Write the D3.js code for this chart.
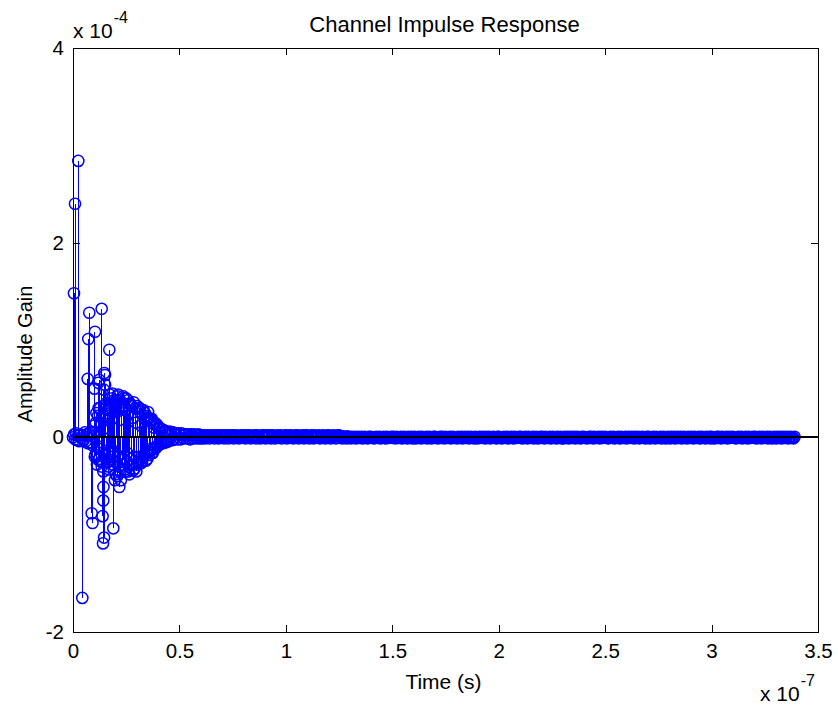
<!DOCTYPE html>
<html>
<head>
<meta charset="utf-8">
<title>Channel Impulse Response</title>
<script src="https://d3js.org/d3.v7.min.js"></script>
<style>
  body { margin: 0; background: #fff; }
  text { font-family: "Liberation Sans", Arial, sans-serif; fill: #000; }
</style>
</head>
<body>
<svg width="838" height="710"></svg>
<script>
// Resolved multipath taps: delay in ns, gain in units of 1e-4
const tapDelayNs = [0.47, 0.94, 2.49, 4.37, 6.9, 7.19, 7.66, 8.78, 9.16, 10.1, 10.33,
  11.88, 11.9, 12.35, 13.48, 13.9, 14.1, 14.23, 14.3, 14.5, 14.6, 14.7, 15.03, 15.1,
  15.5, 17.05, 17.2, 18.0, 18.5, 18.93, 19.7, 20.5, 21.2, 21.75, 23.6, 26.0, 31.5];
const tapGain = [1.48, 2.40, 2.84, -1.65, 0.60, 1.01, 1.28, -0.78, -0.88, 0.50, 1.085,
  -0.23, 0.56, 0.59, 1.32, -0.81, -1.09, -0.65, -0.51, 0.49, -1.03, 0.66, 0.64, 0.54,
  0.33, 0.90, 0.44, 0.30, 0.45, -0.935, -0.44, 0.38, 0.44, -0.51, 0.42, -0.35, -0.27];

// Diffuse part and tail, one sample every 0.5 ns from t = 0, gain in units of 1e-6
const gridStepNs = 0.5;
const gridGain = `
0 3 -2 4 -3 2 -4 3 -1 2 -3 5 -4 3 -6 4 -5 6 -8 5
12 -18 25 -9 30 -22 15 -30 8 22 -14 35 -26 18 -33 28 -12 40 -20 32
-38 26 42 -30 18 -44 36 -22 30 -35 40 -16 25 -38 33 -28 20 36 -32 15
-28 30 -20 26 12 -24 28 -18 22 -15 -22 20 17 -12 19 -16 10 15 -11 13
-8 10 9 -6 8 -5 7 6 -4 5 -3 6 4 -3 5 -2 4 3 -2 4
3 -2 4 2 -1 3 3 -1 2 3 -2 3 2 -1 3 2 -1 2 3 -1
2 -1 1 2 -1 0 2 1 -1 2 0 1 2 -1 1 2 0 -1 2 1
1 2 -1 0 2 1 -1 2 1 0 2 -1 1 2 0 1 -1 2 1 0
2 1 -1 2 0 1 2 -1 1 0 2 1 -1 2 1 0 -1 2 1 2
0 -1 2 1 1 2 -1 0 2 1 -1 1 2 0 1 2 -1 1 0 2
1 -1 2 0 1 2 1 -1 0 2 1 2 -1 1 0 2 1 -1 2 0
2 1 -1 1 2 0 -1 2 1 0 1 2 -1 0 1 2 1 -1 0 2
1 2 -1 1 0 2 1 -1 1 2 2 1 0 -1 1 0 0 -1 1 0
0 -1 0.5 0 -0.5 0.5 -1 0 0.5 -0.5 0 0.5 -1 0 0.5 -0.5 0 -1 0.5 0
0.5 0 -0.5 -1 0 0.5 0 -0.5 0.5 -1 0 0 0.5 -0.5 -1 0.5 0 -0.5 0 0.5
-0.5 0.5 0 -1 0.5 0 -0.5 0 0.5 -1 -0.5 0.5 0 0 -1 0.5 -0.5 0 0.5 -1
0 0.5 -1 0 -0.5 0.5 0 -1 0.5 0 -0.5 0 0.5 -1 0 0.5 -0.5 -1 0 0.5
0.5 -0.5 0 -1 0 0.5 -0.5 0.5 0 -1 0.5 0 -0.5 0 0.5 -1 0 0.5 -0.5 0
0 -1 0.5 0 -0.5 0.5 -1 0 0.5 -0.5 0 0.5 -1 0 0.5 -0.5 0 -1 0.5 0
-1 0 0.5 -0.5 0 0.5 0 -1 0.5 -0.5 0 0.5 -1 0 0 0.5 -0.5 0 -1 0.5
0.5 0 -0.5 -1 0 0.5 0 -0.5 0.5 -1 0 0 0.5 -0.5 -1 0.5 0 -0.5 0 0.5
0 0.5 -1 0 -0.5 0.5 0 -1 0.5 0 -0.5 0 0.5 -1 0 0.5 -0.5 -1 0 0.5
-0.5 0.5 0 -1 0.5 0 -0.5 0 0.5 -1 -0.5 0.5 0 0 -1 0.5 -0.5 0 0.5 -1
0 -1 0.5 0 -0.5 0.5 -1 0 0.5 -0.5 0 0.5 -1 0 0.5 -0.5 0 -1 0.5 0
0.5 -0.5 0 -1 0 0.5 -0.5 0.5 0 -1 0.5 0 -0.5 0 0.5 -1 0 0.5 -0.5 0
0.5 0 -0.5 -1 0 0.5 0 -0.5 0.5 -1 0 0 0.5 -0.5 -1 0.5 0 -0.5 0 0.5
-1 0 0.5 -0.5 0 0.5 0 -1 0.5 -0.5 0 0.5 -1 0 0 0.5 -0.5 0 -1 0.5
0 0.5 -1 0 -0.5 0.5 0 -1 0.5 0 -0.5 0 0.5 -1 0 0.5 -0.5 -1 0 0.5
0 -1 0.5 0 -0.5 0.5 -1 0 0.5 -0.5 0 0.5 -1 0 0.5 -0.5 0 -1 0.5 0
-0.5 0.5 0 -1 0.5 0 -0.5 0 0.5 -1 -0.5 0.5 0 0 -1 0.5 -0.5 0 0.5 -1
0.5 -0.5 0 -1 0 0.5 -0.5 0.5 0 -1 0.5 0 -0.5 0 0.5 -1 0 0.5 -0.5 0
0.5 0 -0.5 -1 0 0.5 0 -0.5 0.5 -1 0 0 0.5 -0.5 -1 0.5 0 -0.5 0 0.5
0 0.5 -1 0 -0.5 0.5 0 -1 0.5 0 -0.5 0 0.5 -1 0 0.5 -0.5 -1 0 0.5
0 -1 0.5 0 -0.5 0.5 -1 0 0.5 -0.5 0 0.5 -1 0 0.5 -0.5 0 -1 0.5
`.trim().split(/\s+/).map(Number);

// Dense scattering cloud between the grid samples: every 0.5 ns from 10.25 ns, units of 1e-6
const cloudStartNs = 10.25;
const cloudStepNs = 0.5;
const cloudGain = `
-20 15 -28 22 -12 30 -25 20 -35 -18 30 -22 28 -30 24 -20 35 -28 38 -25
34 -40 -20 38 -36 30 -28 40 -33 28 -25 38 -30 35 -22 32 -34 -20 30 -35
32 -25 30 -22 -26 28 -20 25 -24 20 26 -18 -14 18 -16 14 -12 -10 12 -9
9 -7 -6 8 -6 6 -5 -5 5 -4
`.trim().split(/\s+/).map(Number);

// Axis ticks (x in units of 1e-7 s, y in units of 1e-4)
const xTicks = [0, 0.5, 1, 1.5, 2, 2.5, 3, 3.5];
const yTicks = [-2, 0, 2, 4];

const margin = {top: 48, right: 20, bottom: 78, left: 73},
      width = 838 - margin.left - margin.right,
      height = 710 - margin.top - margin.bottom;

const svg = d3.select("svg");
const g = svg.append("g")
    .attr("transform", `translate(${margin.left},${margin.top})`);

const x = d3.scaleLinear().domain([0, 3.5e-7]).range([0, width]);
const y = d3.scaleLinear().domain([-2e-4, 4e-4]).range([height, 0]);

// Build the sample list from the sampled part, the cloud and the taps
const points = gridGain.map((v, i) => ({t: i * gridStepNs * 1e-9, v: v * 1e-6}))
  .concat(cloudGain.map((v, i) => ({t: (cloudStartNs + i * cloudStepNs) * 1e-9, v: v * 1e-6})))
  .concat(tapDelayNs.map((d, i) => ({t: d * 1e-9, v: tapGain[i] * 1e-4})));

// Stems
g.append("g")
    .attr("shape-rendering", "crispEdges")
  .selectAll("line")
  .data(points)
  .join("line")
    .attr("x1", d => x(d.t)).attr("x2", d => x(d.t))
    .attr("y1", y(0)).attr("y2", d => y(d.v))
    .attr("stroke", "#0000ff")
    .attr("stroke-width", 1);

// Markers
g.append("g")
  .selectAll("circle")
  .data(points)
  .join("circle")
    .attr("cx", d => x(d.t))
    .attr("cy", d => y(d.v))
    .attr("r", 5.6)
    .attr("fill", "none")
    .attr("stroke", "#0000ff")
    .attr("stroke-width", 1.5);

// Baseline
g.append("line")
    .attr("shape-rendering", "crispEdges")
    .attr("x1", 0).attr("x2", width)
    .attr("y1", y(0)).attr("y2", y(0))
    .attr("stroke", "#000")
    .attr("stroke-width", 2);

// Axes, ticks pointing inward on all four sides
const fmt = (d, unit) => String(+(d / unit).toFixed(2));

g.append("g")
    .attr("transform", `translate(0,${height})`)
    .call(d3.axisBottom(x).tickValues(xTicks.map(d => d * 1e-7))
      .tickFormat(d => fmt(d, 1e-7)).tickSizeInner(-7).tickSizeOuter(0).tickPadding(11));
g.append("g")
    .call(d3.axisTop(x).tickValues(xTicks.map(d => d * 1e-7))
      .tickFormat("").tickSizeInner(-7).tickSizeOuter(0));
g.append("g")
    .call(d3.axisLeft(y).tickValues(yTicks.map(d => d * 1e-4))
      .tickFormat(d => fmt(d, 1e-4)).tickSizeInner(-7).tickSizeOuter(0).tickPadding(9));
g.append("g")
    .attr("transform", `translate(${width},0)`)
    .call(d3.axisRight(y).tickValues(yTicks.map(d => d * 1e-4))
      .tickFormat("").tickSizeInner(-7).tickSizeOuter(0));

g.selectAll(".domain").remove();
g.selectAll(".tick line").attr("stroke", "#000").attr("shape-rendering", "crispEdges");
g.selectAll(".tick text")
    .style("font-family", '"Liberation Sans", Arial, sans-serif')
    .style("font-size", "20.5px")
    .attr("fill", "#000");

// Box
g.append("rect")
    .attr("shape-rendering", "crispEdges")
    .attr("x", 0).attr("y", 0)
    .attr("width", width).attr("height", height)
    .attr("fill", "none")
    .attr("stroke", "#000")
    .attr("stroke-width", 1);

// Title and labels
svg.append("text")
    .attr("x", margin.left + width / 2 - 1).attr("y", 32)
    .attr("text-anchor", "middle")
    .style("font-size", "22px")
    .text("Channel Impulse Response");

svg.append("text")
    .attr("x", margin.left + width / 2 - 2).attr("y", 689)
    .attr("text-anchor", "middle")
    .style("font-size", "21px")
    .text("Time (s)");

svg.append("text")
    .attr("transform", `translate(32,${margin.top + height / 2 + 14}) rotate(-90)`)
    .attr("text-anchor", "middle")
    .style("font-size", "20px")
    .text("Amplitude Gain");

// Exponent labels
const expTop = svg.append("text").attr("x", margin.left).attr("y", 38)
    .style("font-size", "21px");
expTop.append("tspan").text("x 10");
expTop.append("tspan").attr("dx", 1).attr("dy", -15).style("font-size", "16px").text("-4");

const expBottom = svg.append("text").attr("x", 760).attr("y", 701)
    .style("font-size", "21px");
expBottom.append("tspan").text("x 10");
expBottom.append("tspan").attr("dx", 1).attr("dy", -15).style("font-size", "16px").text("-7");
</script>
</body>
</html>
